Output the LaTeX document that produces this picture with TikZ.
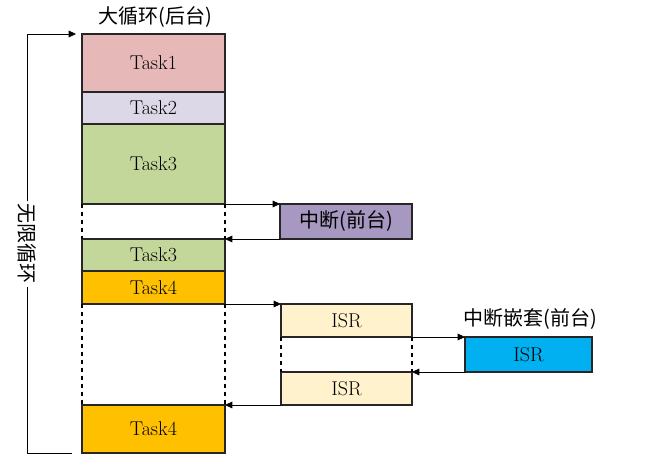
\documentclass[tikz,border=0pt]{standalone}
\usepackage{fontspec}
\newfontfamily\cjk{Noto Sans CJK SC}
\usetikzlibrary{arrows.meta}

\definecolor{taskone}{HTML}{E6B8B7}
\definecolor{tasktwo}{HTML}{DDD8E7}
\definecolor{taskthree}{HTML}{C4D79B}
\definecolor{taskfour}{HTML}{FFC000}
\definecolor{intcol}{HTML}{A698C0}
\definecolor{isrcol}{HTML}{FFF2CC}
\definecolor{nestcol}{HTML}{00B0F0}

\begin{document}
\begin{tikzpicture}[x=0.75pt, y=0.75pt,
    box/.style={draw=black!85, line width=0.9pt, anchor=north west, inner sep=0pt,
      outer sep=0pt, font=\fontsize{15}{17}\selectfont},
    task/.style={box, minimum width=107.25pt},
    isrbox/.style={box, minimum width=98.25pt, minimum height=24.75pt, fill=isrcol},
    cjklbl/.style={font=\cjk\fontsize{15}{17}\selectfont, inner sep=1pt},
    arr/.style={-{Triangle[length=5.5pt,width=5pt]}, line width=0.6pt},
    gap/.style={dashed, line width=0.8pt}]
  \useasboundingbox (0,0) rectangle (671,467);

  % main loop (background)
  \node[task, fill=taskone, minimum height=43.5pt] (t1) at (82,433) {Task1};
  \node[task, fill=tasktwo, minimum height=24pt] (t2) at (t1.south west) {Task2};
  \node[task, fill=taskthree, minimum height=60pt] (t3) at (t2.south west) {Task3};
  \node[task, fill=taskthree, minimum height=24pt] (t3b) at (82,228) {Task3};
  \node[task, fill=taskfour, minimum height=24.75pt] (t4) at (t3b.south west) {Task4};
  \node[task, fill=taskfour, minimum height=36pt] (t4b) at (82,62) {Task4};
  \node[cjklbl] (bigloop) at (155,450) {大循环(后台)};

  % interrupts (foreground)
  \node[box, fill=intcol, minimum width=99pt, minimum height=26.25pt, font=\cjk\fontsize{15}{17}\selectfont] (int) at (280,263) {中断(前台)};
  \node[isrbox] (isr1) at (281,163) {ISR};
  \node[isrbox] (isr2) at (281,95) {ISR};
  \node[box, fill=nestcol, minimum width=95.25pt, minimum height=26.25pt] (nest) at (465,130) {ISR};
  \node[cjklbl] (nestlbl) at (530,148) {中断嵌套(前台)};

  % endless loop
  \node[cjklbl, rotate=-90, fill=white, inner sep=2pt] (loop) at (27,223) {无限循环};
  \coordinate (looptop) at (76,433);
  \coordinate (loopbot) at (72,14);
  \draw[arr] (loop) |- (looptop);
  \draw[line width=0.6pt] (loop) |- (loopbot);

  % gaps
  \draw[gap] (t3.south west) -- (t3b.north west);
  \draw[gap] (t3.south east) -- (t3b.north east);
  \draw[gap] (t4.south west) -- (t4b.north west);
  \draw[gap] (t4.south east) -- (t4b.north east);
  \draw[gap] (isr1.south west) -- (isr2.north west);
  \draw[gap] (isr1.south east) -- (isr2.north east);

  % jumps
  \draw[arr] (t3.south east) -- (int.north west);
  \draw[arr] (int.south west) -- (t3b.north east);
  \draw[arr] (t4.south east) -- (isr1.north west);
  \draw[arr] (isr2.south west) -- (t4b.north east);
  \draw[arr] (isr1.south east) -- (nest.north west);
  \draw[arr] (nest.south west) -- (isr2.north east);
\end{tikzpicture}
\end{document}
